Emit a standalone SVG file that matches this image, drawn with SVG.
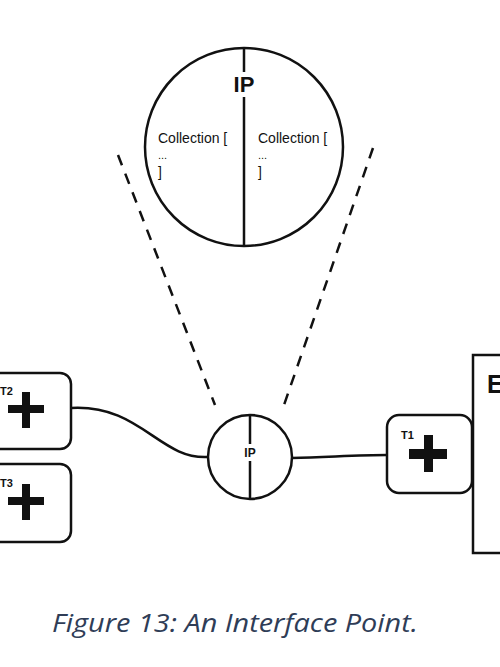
<svg xmlns="http://www.w3.org/2000/svg" width="500" height="667" viewBox="0 0 500 667">
<style>
.s{fill:none;stroke:#111;stroke-width:2.5}
.d{fill:none;stroke:#111;stroke-width:2.5;stroke-dasharray:11 9}
.box{fill:#fff;stroke:#111;stroke-width:2.5}
.plus{fill:#111}
.t{font-family:"Liberation Sans",Arial,sans-serif;fill:#111}
.lab{font-family:"Liberation Sans",Arial,sans-serif;font-size:11px;font-weight:bold;fill:#111}
</style>
<rect width="500" height="667" fill="#fff"/>
<g id="connectors">
<path class="d" d="M118,155 L215,405"/>
<path class="d" d="M373,148 L284,405"/>
<path class="s" d="M71,408 C140,404 160,460 208,457"/>
<path class="s" d="M292,458 C330,457 360,455 387,455"/>
</g>
<g id="ip-detail">
<circle class="s" cx="244" cy="147" r="99"/>
<path class="s" d="M244,48 V72 M244,97 V246"/>
<text class="t" x="244" y="92" font-size="22" font-weight="bold" text-anchor="middle">IP</text>
<text class="t" x="158" y="143" font-size="14">Collection [</text>
<text class="t" x="158" y="159" font-size="11">...</text>
<text class="t" x="158" y="177" font-size="14">]</text>
<text class="t" x="258" y="143" font-size="14">Collection [</text>
<text class="t" x="258" y="159" font-size="11">...</text>
<text class="t" x="258" y="177" font-size="14">]</text>
</g>
<g id="ip">
<circle class="s" cx="250" cy="457" r="42"/>
<path class="s" d="M250,415 V444 M250,461 V499"/>
<text class="t" x="250" y="457" font-size="12" font-weight="bold" text-anchor="middle">IP</text>
</g>
<g id="t2">
<rect class="box" x="-12" y="373" width="83" height="76" rx="11"/>
<rect class="plus" x="22" y="392" width="8" height="36"/>
<rect class="plus" x="8" y="405" width="36" height="8"/>
<text class="lab" x="0" y="395">T2</text>
</g>
<g id="t3">
<rect class="box" x="-12" y="464" width="83" height="78" rx="11"/>
<rect class="plus" x="22" y="484" width="8" height="36"/>
<rect class="plus" x="8" y="497" width="36" height="8"/>
<text class="lab" x="0" y="487">T3</text>
</g>
<g id="e">
<rect class="box" x="473" y="355" width="40" height="198"/>
<text class="t" x="487" y="393" font-size="25" font-weight="bold">E</text>
</g>
<g id="t1">
<rect class="box" x="387" y="415" width="85" height="78" rx="12"/>
<rect class="plus" x="424" y="435" width="9" height="37"/>
<rect class="plus" x="409" y="449" width="38" height="10"/>
<text class="lab" x="401" y="439">T1</text>
</g>
<text x="52" y="632" font-family="'Open Sans','Noto Sans',sans-serif" font-style="italic" font-size="26" fill="#2f3d57" textLength="366" lengthAdjust="spacingAndGlyphs">Figure 13: An Interface Point.</text>
</svg>
